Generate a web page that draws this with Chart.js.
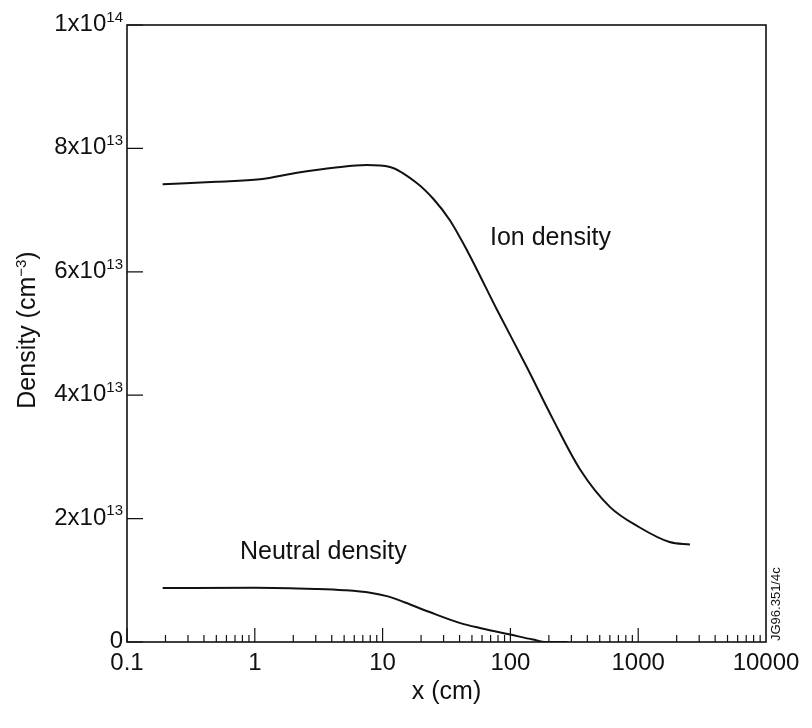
<!DOCTYPE html>
<html lang="en">
<head>
    <meta charset="UTF-8">
    <title>Ion and neutral density</title>
    <script src="https://cdn.jsdelivr.net/npm/chart.js"></script>
    <style>
        body {
            margin: 0;
            background: #ffffff;
        }
        #chart {
            display: block;
        }
    </style>
</head>
<body>
    <canvas id="chart" width="812" height="728"></canvas>

    <script>
        // values, density in units of 1e13 cm^-3
        const ionX = [0.19, 0.5, 1.1, 2.2, 4.3, 7.5, 11.4, 18.5, 25, 33.5, 45.7, 78.7, 134, 214, 350, 600, 1020, 1760, 2540];
        const ionY = [7.42, 7.46, 7.50, 7.61, 7.69, 7.73, 7.70, 7.44, 7.18, 6.84, 6.35, 5.38, 4.46, 3.62, 2.80, 2.19, 1.86, 1.62, 1.58];

        const neutralX = [0.19, 1, 3, 5, 8, 11, 15, 23, 40, 60, 100, 150, 190, 280];
        const neutralY = [0.875, 0.88, 0.86, 0.84, 0.80, 0.74, 0.64, 0.49, 0.31, 0.22, 0.12, 0.04, 0.0, 0.0];

        const xTickValues = [0.1, 1, 10, 100, 1000, 10000];
        const xTickLabels = ['0.1', '1', '10', '100', '1000', '10000'];
        const yTickValues = [0, 2e13, 4e13, 6e13, 8e13, 1e14];
        const yTickLabels = [['0', ''], ['2x10', '13'], ['4x10', '13'], ['6x10', '13'], ['8x10', '13'], ['1x10', '14']];

        const FONT = '"Liberation Sans", Arial, Helvetica, sans-serif';
        const INK = '#111111';

        function toPoints(xs, ys) {
            return xs.map((x, i) => ({ x: x, y: ys[i] * 1e13 }));
        }

        // text with a raised part, e.g. 8x10^13; align is 'right', 'center' or 'left'
        function drawSup(ctx, base, sup, x, y, size, supSize, align) {
            ctx.font = size + 'px ' + FONT;
            const wBase = ctx.measureText(base).width;
            ctx.font = supSize + 'px ' + FONT;
            const wSup = ctx.measureText(sup).width;
            const total = wBase + wSup;
            let left = x;
            if (align === 'right') left = x - total;
            if (align === 'center') left = x - total / 2;
            ctx.textAlign = 'left';
            ctx.textBaseline = 'alphabetic';
            ctx.font = size + 'px ' + FONT;
            ctx.fillText(base, left, y);
            ctx.font = supSize + 'px ' + FONT;
            ctx.fillText(sup, left + wBase, y - size * 0.38);
        }

        const framePlugin = {
            id: 'frame',
            afterDraw(chart) {
                const ctx = chart.ctx;
                const area = chart.chartArea;
                const xs = chart.scales.x;
                const ys = chart.scales.y;
                ctx.save();
                ctx.strokeStyle = INK;
                ctx.fillStyle = INK;

                // box
                ctx.lineWidth = 1.6;
                ctx.strokeRect(area.left, area.top, area.right - area.left, area.bottom - area.top);

                // x ticks, pointing into the plot
                ctx.lineWidth = 1.2;
                ctx.beginPath();
                for (let d = -1; d <= 3; d++) {
                    for (let m = 1; m <= 9; m++) {
                        const v = m * Math.pow(10, d);
                        const px = xs.getPixelForValue(v);
                        const len = m === 1 ? 14 : 7;
                        ctx.moveTo(px, area.bottom);
                        ctx.lineTo(px, area.bottom - len);
                    }
                }
                // y ticks
                yTickValues.forEach(v => {
                    const py = ys.getPixelForValue(v);
                    ctx.moveTo(area.left, py);
                    ctx.lineTo(area.left + 16, py);
                });
                ctx.stroke();

                // x tick labels
                ctx.font = '24px ' + FONT;
                ctx.textAlign = 'center';
                ctx.textBaseline = 'top';
                xTickValues.forEach((v, i) => {
                    ctx.fillText(xTickLabels[i], xs.getPixelForValue(v), area.bottom + 9);
                });

                // y tick labels
                yTickValues.forEach((v, i) => {
                    const py = ys.getPixelForValue(v);
                    drawSup(ctx, yTickLabels[i][0], yTickLabels[i][1], area.left - 4, py + 6, 24, 15, 'right');
                });

                // axis titles
                ctx.font = '25px ' + FONT;
                ctx.textAlign = 'center';
                ctx.textBaseline = 'alphabetic';
                ctx.fillText('x (cm)', (area.left + area.right) / 2, 699);

                ctx.save();
                ctx.translate(35, 330);
                ctx.rotate(-Math.PI / 2);
                ctx.font = '25px ' + FONT;
                const wA = ctx.measureText('Density (cm').width;
                ctx.font = '15px ' + FONT;
                const wB = ctx.measureText('\u22123').width;
                ctx.font = '25px ' + FONT;
                const wC = ctx.measureText(')').width;
                let left = -(wA + wB + wC) / 2;
                ctx.textAlign = 'left';
                ctx.fillText('Density (cm', left, 0);
                ctx.font = '15px ' + FONT;
                ctx.fillText('\u22123', left + wA, -9);
                ctx.font = '25px ' + FONT;
                ctx.fillText(')', left + wA + wB, 0);
                ctx.restore();

                // curve labels
                ctx.font = '25px ' + FONT;
                ctx.textAlign = 'left';
                ctx.fillText('Ion density', 490, 245);
                ctx.fillText('Neutral density', 240, 559);

                // figure code along the right edge
                ctx.save();
                ctx.translate(780, 641);
                ctx.rotate(-Math.PI / 2);
                ctx.font = '13px ' + FONT;
                ctx.textAlign = 'left';
                ctx.fillText('JG96.351/4c', 0, 0);
                ctx.restore();

                ctx.restore();
            }
        };

        const lineStyle = {
            borderColor: INK,
            borderWidth: 2,
            pointRadius: 0,
            fill: false,
            cubicInterpolationMode: 'monotone'
        };

        new Chart(document.getElementById('chart').getContext('2d'), {
            type: 'line',
            data: {
                datasets: [
                    Object.assign({ label: 'Ion density', data: toPoints(ionX, ionY) }, lineStyle),
                    Object.assign({ label: 'Neutral density', data: toPoints(neutralX, neutralY) }, lineStyle)
                ]
            },
            options: {
                responsive: false,
                animation: false,
                layout: { padding: { left: 127, top: 25, right: 46, bottom: 86 } },
                plugins: {
                    legend: { display: false },
                    tooltip: { enabled: false }
                },
                scales: {
                    x: { type: 'logarithmic', min: 0.1, max: 10000, display: false },
                    y: { type: 'linear', min: 0, max: 1e14, display: false }
                }
            },
            plugins: [framePlugin]
        });
    </script>
</body>
</html>
